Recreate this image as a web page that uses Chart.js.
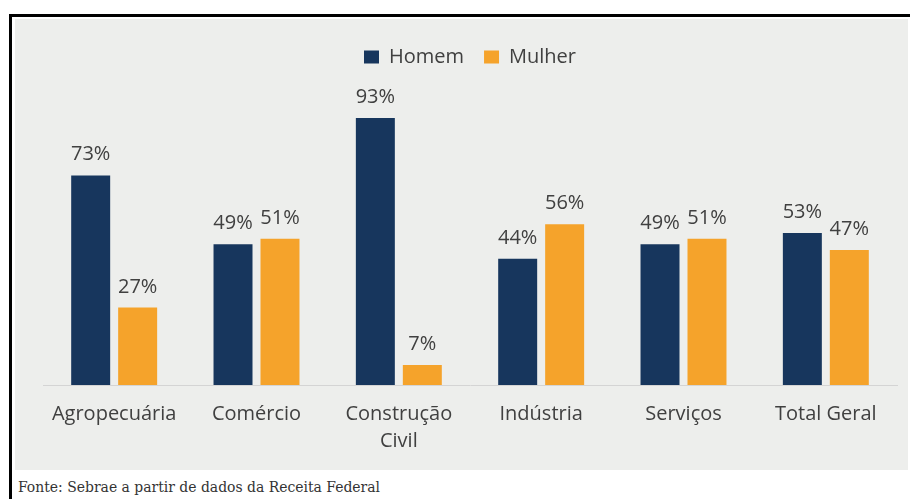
<!DOCTYPE html>
<html>
<head>
<meta charset="utf-8">
<script src="https://cdn.jsdelivr.net/npm/chart.js@4/dist/chart.umd.min.js"></script>
<style>
    body { margin: 0; background: #fff; width: 910px; height: 499px; overflow: hidden; position: relative; }
    #moldura { position: absolute; left: 9px; top: 14px; width: 905px; height: 490px; border-top: 3px solid #000; border-left: 3px solid #000; }
    #painel { position: absolute; left: 15px; top: 19px; width: 893px; height: 451px; background: #edeeec; }
    #fonte { position: absolute; left: 18px; top: 478px; font-family: "DejaVu Serif", serif; font-stretch: condensed; font-size: 15.5px; color: #333; }
</style>
</head>
<body>
<div id="moldura"></div>
<div id="painel"><canvas id="chartGenero" width="893" height="451"></canvas></div>
<div id="fonte">Fonte: Sebrae a partir de dados da Receita Federal</div>
<script>
var setores = ['Agropecuária', 'Comércio', ['Construção', 'Civil'], 'Indústria', 'Serviços', 'Total Geral'];
var homem = [73, 49, 93, 44, 49, 53];
var mulher = [27, 51, 7, 56, 51, 47];

var corTexto = '#404040';

// rotulos de percentual acima das barras
var rotulosPlugin = {
    id: 'rotulos',
    beforeInit: function (chart) {
        var fitOriginal = chart.legend.fit;
        chart.legend.fit = function () {
            fitOriginal.call(this);
            this.height = 71;
        };
    },
    afterDatasetsDraw: function (chart) {
        var ctx = chart.ctx;
        ctx.save();
        ctx.font = '20px "Open Sans"';
        ctx.fillStyle = corTexto;
        ctx.textAlign = 'center';
        ctx.textBaseline = 'alphabetic';
        chart.data.datasets.forEach(function (ds, i) {
            chart.getDatasetMeta(i).data.forEach(function (bar, j) {
                ctx.fillText(ds.data[j] + '%', bar.x, bar.y - 15);
            });
        });
        ctx.restore();
    }
};

var ctxGenero = document.getElementById('chartGenero').getContext('2d');
new Chart(ctxGenero, {
    type: 'bar',
    data: {
        labels: setores,
        datasets: [{
            label: 'Homem',
            data: homem,
            backgroundColor: '#17365d'
        }, {
            label: 'Mulher',
            data: mulher,
            backgroundColor: '#f5a32b'
        }]
    },
    options: {
        responsive: false,
        animation: false,
        layout: {
            padding: { top: 8, left: 28, right: 11, bottom: 0 }
        },
        categoryPercentage: 0.66,
        barPercentage: 0.83,
        plugins: {
            legend: {
                display: true,
                labels: {
                    boxWidth: 15,
                    boxHeight: 13,
                    padding: 20,
                    color: corTexto,
                    font: { family: '"Open Sans"', size: 20 }
                }
            },
            tooltip: { enabled: false }
        },
        scales: {
            x: {
                grid: { display: false, drawTicks: false },
                border: { display: true, color: '#d4d4d4', width: 1 },
                ticks: {
                    color: corTexto,
                    padding: 16,
                    maxRotation: 0,
                    font: { family: '"Open Sans"', size: 20, lineHeight: 1.35 }
                },
                afterFit: function (scale) {
                    scale.height = 85;
                }
            },
            y: {
                display: false,
                min: 0,
                max: 100
            }
        }
    },
    plugins: [rotulosPlugin]
});
</script>
</body>
</html>
